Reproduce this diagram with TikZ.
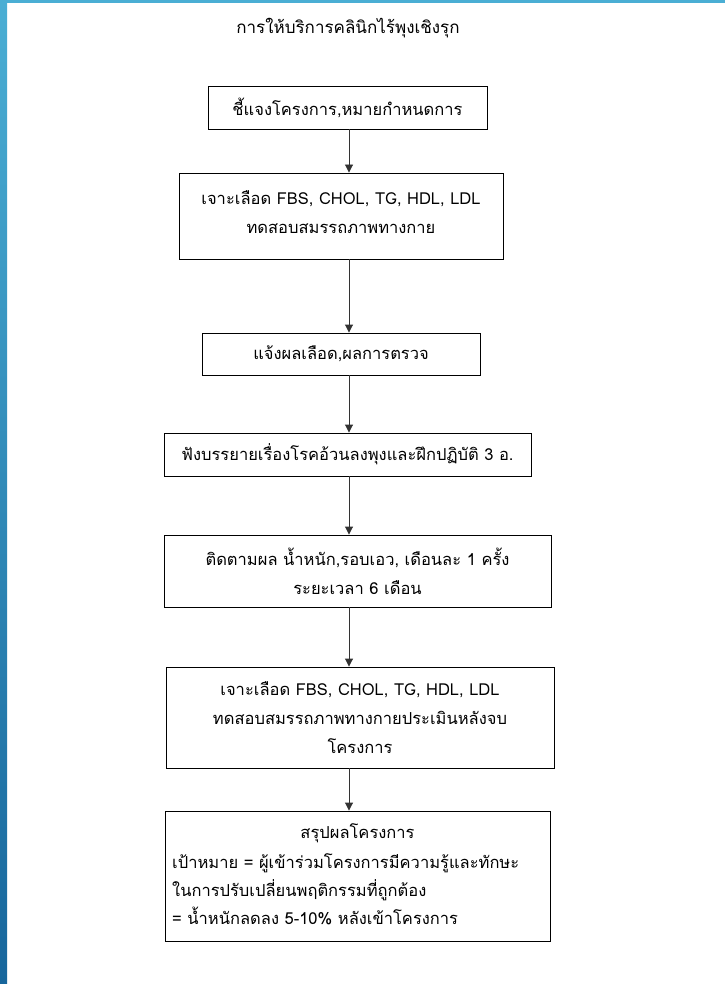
\documentclass[tikz,border=0pt]{standalone}
\usepackage{fontspec}
\setmainfont[Script=Thai]{Loma}
\usetikzlibrary{arrows.meta}
\definecolor{frameTop}{HTML}{4AAED4}
\definecolor{frameBot}{HTML}{17669C}
\tikzset{
  stepbox/.style={draw=black, line width=0.9pt, inner sep=0pt, align=center, font=\fontsize{16.5}{29}\selectfont},
  conn/.style={line width=0.9pt, draw=black!80, -{Triangle[length=8pt,width=8pt]}},
  plain/.style={inner sep=0pt, font=\fontsize{16.5}{28}\selectfont}
}
\begin{document}
\begin{tikzpicture}[x=1pt,y=-1pt]
\useasboundingbox (0,0) rectangle (725,984);
\fill[white] (0,0) rectangle (725,984);
\shade[top color=frameTop, bottom color=frameBot] (0,0) rectangle (7,984);
\fill[frameTop] (0,0) rectangle (725,3);

\node[plain, font=\fontsize{17}{19}\selectfont] (title) at (348,28) {การให้บริการคลินิกไร้พุงเชิงรุก};

\coordinate (ax) at (349,0);

\node[stepbox, minimum width=279pt, minimum height=43pt] (b1) at (347.5,107.5) {ชี้แจงโครงการ,หมายกำหนดการ};
\node[stepbox, minimum width=324pt, minimum height=86pt] (b2) at (341,216) {};
\node[plain, align=center, font=\fontsize{16.5}{29}\selectfont] (t2) at (341,212) {เจาะเลือด FBS, CHOL, TG, HDL, LDL\\ทดสอบสมรรถภาพทางกาย};
\node[stepbox, minimum width=278pt, minimum height=42pt] (b3) at (341,354) {แจ้งผลเลือด,ผลการตรวจ};
\node[stepbox, minimum width=367pt, minimum height=43pt] (b4) at (347.5,454.5) {ฟังบรรยายเรื่องโรคอ้วนลงพุงและฝึกปฏิบัติ 3 อ.};
\node[stepbox, minimum width=387pt, minimum height=72pt] (b5) at (357.5,571) {ติดตามผล น้ำหนัก,รอบเอว, เดือนละ 1 ครั้ง\\ระยะเวลา 6 เดือน};
\node[stepbox, minimum width=388pt, minimum height=101pt] (b6) at (360,717.5) {เจาะเลือด FBS, CHOL, TG, HDL, LDL\\ทดสอบสมรรถภาพทางกายประเมินหลังจบ\\โครงการ};
\node[stepbox, minimum width=385pt, minimum height=130pt] (b7) at (357.5,876) {};
\node[plain] (t7a) at (357.5,833) {สรุปผลโครงการ};
\node[plain, anchor=west, align=left] (t7b) at (172,889) {เป้าหมาย = ผู้เข้าร่วมโครงการมีความรู้และทักษะ\\ในการปรับเปลี่ยนพฤติกรรมที่ถูกต้อง\\= น้ำหนักลดลง 5-10\% หลังเข้าโครงการ};

\draw[conn] (b1.south -| ax) -- (b2.north -| ax);
\draw[conn] (b2.south -| ax) -- (b3.north -| ax);
\draw[conn] (b3.south -| ax) -- (b4.north -| ax);
\draw[conn] (b4.south -| ax) -- (b5.north -| ax);
\draw[conn] (b5.south -| ax) -- (b6.north -| ax);
\draw[conn] (b6.south -| ax) -- (b7.north -| ax);
\end{tikzpicture}
\end{document}
